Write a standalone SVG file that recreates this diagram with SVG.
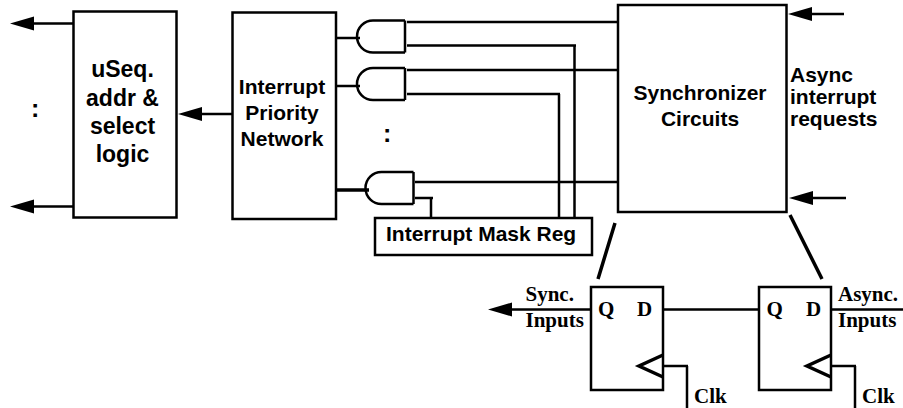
<svg xmlns="http://www.w3.org/2000/svg" width="903" height="408" viewBox="0 0 903 408">
<style>
.b{fill:#fff;stroke:#000;stroke-width:2.5}
.w{fill:none;stroke:#000;stroke-width:2.5}
.t{stroke-width:3.5}
.h{fill:#000;stroke:none}
text{fill:#000;font-weight:bold}
.a{font-family:"Liberation Sans",Arial,sans-serif;font-size:21px}
.m{text-anchor:middle}
.s{font-family:"Liberation Serif","Times New Roman",serif;font-size:21px}
.u{font-size:23px}
.c{font-size:25px}
</style>
<defs>
<path id="ah" class="h" d="M0 0L24-7V7Z"/>
<path id="gate" class="w" d="M48 0H16A16 16 0 0 0 16 32H48M48 0V32"/>
</defs>
<rect width="903" height="408" fill="#fff"/>
<g id="connectors">
<path class="w" d="M34 23.500H74M34 206.500H74M200 114H232M336 38H360M336 86H360"/>
<path class="w t" d="M336 190H369"/>
<path class="w" d="M407 22H618M407 45.500H576M574.500 45.500V218M407 70H618M407 94H560M559 94V218M415 182H618M415 198H433M431 198V218"/>
<path class="w" d="M810 14H844M812 198H846"/>
<path class="w t" d="M615 223L598 279M790 215L822 279"/>
<path class="w" d="M512 309.500H591M663 309.500H759M831 309.500H903M664 366H688M687 366V408M832 366H856M855 366V408"/>
<use href="#ah" x="10" y="23.500"/>
<use href="#ah" x="10" y="206.500"/>
<use href="#ah" x="178" y="114"/>
<use href="#ah" x="788" y="14"/>
<use href="#ah" x="789" y="198"/>
<use href="#ah" x="488" y="309.500"/>
</g>
<g id="useq"><rect class="b" x="73.500" y="11.500" width="103" height="206"/>
<text class="a m u" x="122.500" y="77">uSeq.</text><text class="a m u" x="122.500" y="105.500">addr &amp;</text><text class="a m u" x="122.500" y="134">select</text><text class="a m u" x="122.500" y="162">logic</text></g>
<g id="dots-left"><text class="a c" x="31" y="116.500">:</text></g>
<g id="priority"><rect class="b" x="232.500" y="12.500" width="103.500" height="206.500"/>
<text class="a m" x="282" y="94">Interrupt</text><text class="a m" x="282" y="120">Priority</text><text class="a m" x="282" y="145.500">Network</text></g>
<g id="and1"><use href="#gate" x="357" y="20.500"/></g>
<g id="and2"><use href="#gate" x="357" y="68"/></g>
<g id="dots-mid"><text class="a c" x="383" y="141.500">:</text></g>
<g id="and3"><use href="#gate" x="365.500" y="172"/></g>
<g id="mask"><rect class="b" x="375" y="218" width="217" height="37"/>
<text class="a" x="386" y="240.500">Interrupt Mask Reg</text></g>
<g id="sync"><rect class="b" x="618" y="5" width="168.500" height="207"/>
<text class="a m" x="700" y="100">Synchronizer</text><text class="a m" x="700" y="126">Circuits</text></g>
<g id="async-label"><text class="a" x="790" y="81.500">Async</text><text class="a" x="790" y="104">interrupt</text><text class="a" x="790" y="125.500">requests</text></g>
<g id="ff1"><rect class="b" x="591" y="287" width="72" height="103"/>
<path class="w t" d="M663 355L639 366L663 377"/>
<text class="s" x="598" y="316">Q</text><text class="s" x="637" y="316">D</text></g>
<g id="ff2"><rect class="b" x="759" y="287" width="72" height="103"/>
<path class="w t" d="M831 355L807 366L831 377"/>
<text class="s" x="766.500" y="316">Q</text><text class="s" x="806" y="316">D</text></g>
<g id="labels">
<text class="s" x="525.500" y="301">Sync.</text><text class="s" x="525.500" y="327">Inputs</text>
<text class="s" x="838" y="301">Async.</text><text class="s" x="838" y="327">Inputs</text>
<text class="s" x="694" y="403">Clk</text><text class="s" x="862" y="403">Clk</text>
</g>
</svg>
